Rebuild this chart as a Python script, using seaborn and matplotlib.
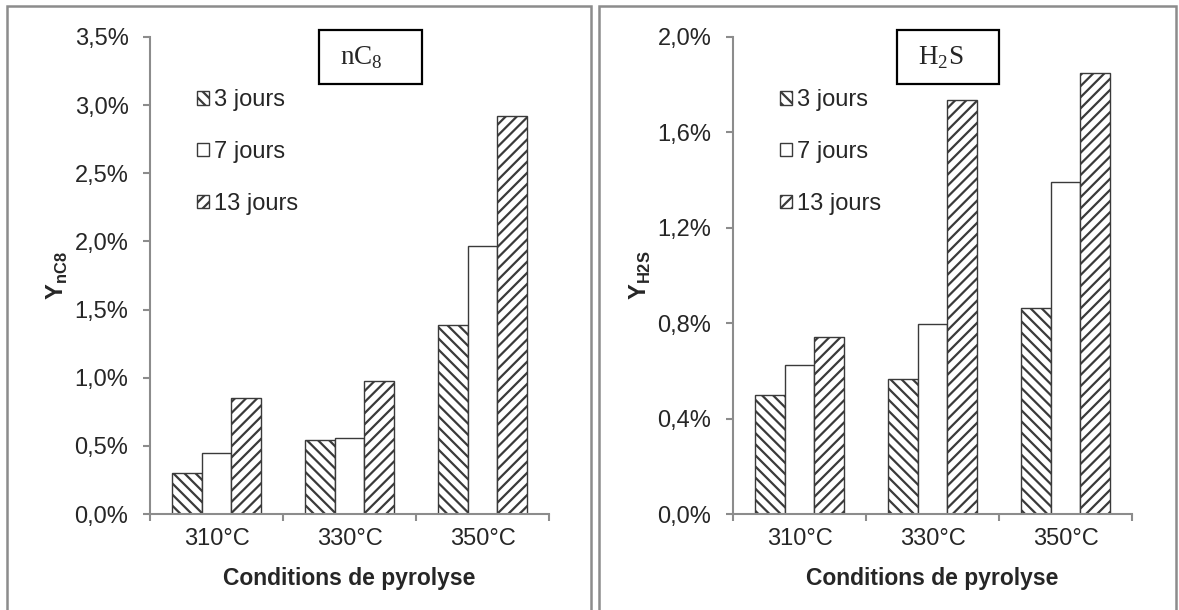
import matplotlib
matplotlib.use('Agg')
import matplotlib.pyplot as plt
from matplotlib.patches import Rectangle
from matplotlib.ticker import FuncFormatter, MultipleLocator
import pandas as pd
import seaborn as sns

# data (in %)
temperatures = ['310°C', '330°C', '350°C']
durees = ['3 jours', '7 jours', '13 jours']
nc8_3j = [0.30, 0.54, 1.39]
nc8_7j = [0.45, 0.555, 1.97]
nc8_13j = [0.85, 0.975, 2.92]
h2s_3j = [0.50, 0.565, 0.865]
h2s_7j = [0.625, 0.797, 1.392]
h2s_13j = [0.742, 1.736, 1.848]

hatches = ['\\\\\\', '', '///']

sns.set_theme(style='white')
plt.rcParams['font.family'] = ['Liberation Sans', 'DejaVu Sans']
plt.rcParams['mathtext.fontset'] = 'custom'
plt.rcParams['mathtext.rm'] = 'Liberation Serif'
plt.rcParams['mathtext.bf'] = 'Liberation Sans:bold'
plt.rcParams['hatch.linewidth'] = 1.6

W, H = 1179, 610
fig = plt.figure(figsize=(W / 100, H / 100), dpi=100)


def make_df(v3, v7, v13):
    rows = []
    for d, vals in zip(durees, [v3, v7, v13]):
        for t, v in zip(temperatures, vals):
            rows.append({'temp': t, 'duree': d, 'val': v})
    return pd.DataFrame(rows)


def pct(v, pos):
    return f'{v:.1f}%'.replace('.', ',')


def draw(ax, df, ymax, step, ylab, boxlab, box_x0, box_w, txt_x):
    sns.barplot(data=df, x='temp', y='val', hue='duree', order=temperatures,
                hue_order=durees, width=0.67, gap=0, ax=ax, legend=False,
                palette=['white'] * 3, edgecolor='#333333', linewidth=1.0,
                saturation=1)
    for cont, h in zip(ax.containers, hatches):
        for p in cont.patches:
            p.set_hatch(h)
            p.set_facecolor('white')
            p.set_edgecolor('#3a3a3a')
    ax.set_xlim(-0.5, 2.5)
    ax.set_ylim(0, ymax)
    ax.yaxis.set_major_locator(MultipleLocator(step))
    ax.yaxis.set_major_formatter(FuncFormatter(pct))
    ax.set_xticks([-0.5, 0.5, 1.5, 2.5], minor=True)
    ax.tick_params(axis='x', which='major', length=0, labelsize=17, pad=10)
    ax.tick_params(axis='x', which='minor', length=5, width=1.5, color='#8c8c8c',
                   direction='out', bottom=True)
    ax.tick_params(axis='y', length=5, width=1.5, color='#8c8c8c',
                   direction='out', left=True, labelsize=17, pad=10.5)
    for s in ['top', 'right']:
        ax.spines[s].set_visible(False)
    for s in ['left', 'bottom']:
        ax.spines[s].set_color('#8c8c8c')
        ax.spines[s].set_linewidth(1.5)
    ax.set_xlabel('Conditions de pyrolyse', fontsize=16.5, fontweight='bold', labelpad=12)
    ax.set_ylabel(ylab, fontsize=17)
    ax.yaxis.set_label_coords(-0.20, 0.5)
    ax.legend(ax.containers, durees, loc='upper left', bbox_to_anchor=(0.095, 0.91),
              frameon=False, fontsize=17, handlelength=0.5, handleheight=0.5,
              handletextpad=0.2, labelspacing=1.26, borderaxespad=0)
    ax.add_patch(Rectangle((box_x0, 0.9015), box_w, 0.113, transform=ax.transAxes,
                           fc='white', ec='black', lw=1.6, clip_on=False, zorder=5))
    ax.text(txt_x, 0.956, boxlab, transform=ax.transAxes, fontsize=19.5,
            ha='center', va='center', family='Liberation Serif', zorder=6)


ax1 = fig.add_axes([150 / W, (H - 514) / H, 399 / W, 477 / H])
draw(ax1, make_df(nc8_3j, nc8_7j, nc8_13j), 3.5, 0.5,
     r'$\mathbf{Y}_{\mathbf{nC8}}$', r'nC$_8$', 0.4236, 0.258, 0.529)

ax2 = fig.add_axes([733 / W, (H - 514) / H, 399 / W, 477 / H])
draw(ax2, make_df(h2s_3j, h2s_7j, h2s_13j), 2.0, 0.4,
     r'$\mathbf{Y}_{\mathbf{H2S}}$', r'H$_2$S', 0.411, 0.2556, 0.521)

# chart-area borders
for x0, x1 in [(7, 591), (599, 1176)]:
    fig.patches.append(Rectangle((x0 / W, -0.05), (x1 - x0) / W, (H - 6) / H + 0.05,
                                 transform=fig.transFigure, fill=False,
                                 ec='#8c8c8c', lw=1.8))

fig.savefig('out.png', dpi=100)
